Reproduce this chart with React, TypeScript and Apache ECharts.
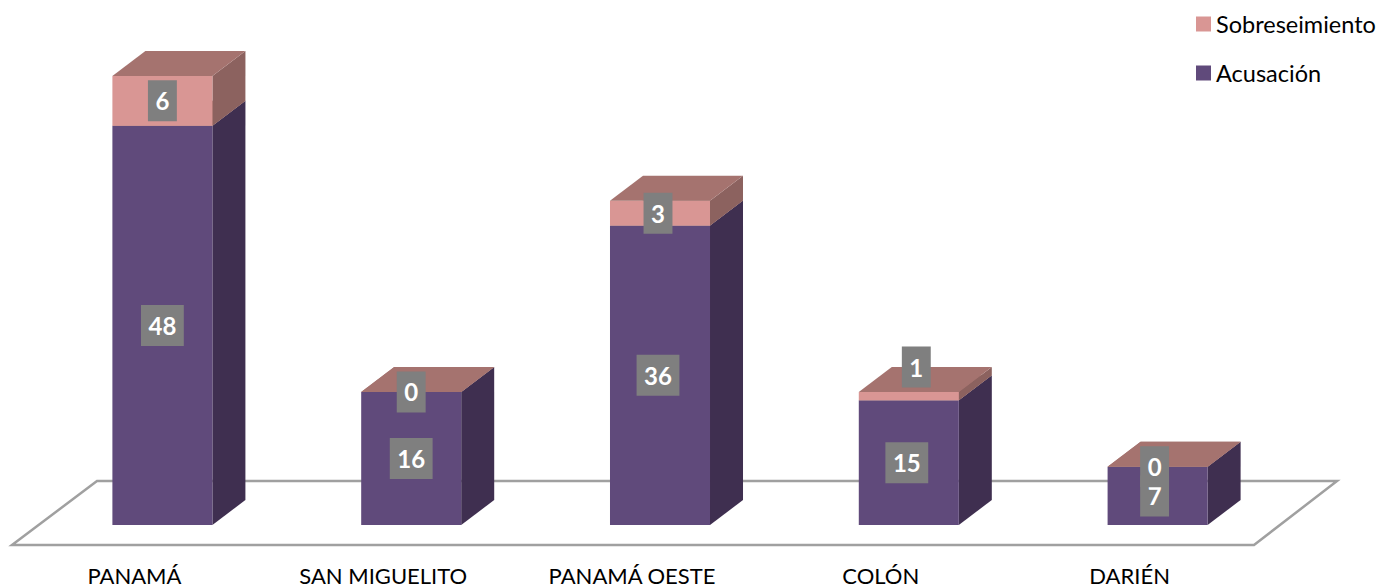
import React, { useEffect, useRef } from "react";
import * as echarts from "echarts";

const categories = ["PANAMÁ", "SAN MIGUELITO", "PANAMÁ OESTE", "COLÓN", "DARIÉN"];
const acusacion = [48, 16, 36, 15, 7];
const sobreseimiento = [6, 0, 3, 1, 0];

const FONT = "Lato, 'Open Sans', sans-serif";
const DEPTH_X = 33;
const DEPTH_Y = 25;
const TOP_FACE = "#a5736f";
const PURPLE = { front: "#604a7b", side: "#3f2f50" };
const PINK = { front: "#d99694", side: "#8c625f" };

// The reference's labels sit slightly off-centre; the "1" of COLÓN is moved above its thin segment.
function labelShift(seriesName: string, idx: number): [number, number] {
  const name = categories[idx];
  if (seriesName === "Sobreseimiento" && name === "COLÓN") return [7.5, -29];
  if (name === "PANAMÁ OESTE" || name === "COLÓN") return [-2, 0];
  if (name === "DARIÉN") return [-3, 0];
  return [0, 0];
}

function box(seriesName: string, colors: { front: string; side: string }) {
  return (params: any, api: any) => {
    const idx = api.value(0);
    const base = api.value(1);
    const top = api.value(2);
    const w = api.size([1, 0])[0] * 0.402;
    const [cx, y0] = api.coord([idx, base]);
    const [, y1] = api.coord([idx, top]);
    const l = cx - w / 2;
    const r = cx + w / 2;
    const [sx, sy] = labelShift(seriesName, idx);
    const children: any[] = [
      {
        type: "polygon",
        shape: { points: [[r, y0], [r + DEPTH_X, y0 - DEPTH_Y], [r + DEPTH_X, y1 - DEPTH_Y], [r, y1]] },
        style: { fill: colors.side },
        z2: 1,
      },
      {
        type: "rect",
        shape: { x: l, y: y1, width: w, height: y0 - y1 },
        style: { fill: colors.front },
        z2: 1,
      },
      {
        type: "polygon",
        shape: { points: [[l, y1], [l + DEPTH_X, y1 - DEPTH_Y], [r + DEPTH_X, y1 - DEPTH_Y], [r, y1]] },
        style: { fill: TOP_FACE },
        z2: 1,
      },
      {
        type: "text",
        style: {
          x: cx + sx,
          y: (y0 + y1) / 2 + sy,
          text: String(top - base),
          fill: "#ffffff",
          font: `bold 24px ${FONT}`,
          align: "center",
          verticalAlign: "middle",
          backgroundColor: "#7f7f7f",
          padding: [6, 7.5],
          lineHeight: 29,
        },
        z2: 5,
      },
    ];
    return { type: "group", children };
  };
}

const acusacionData = acusacion.map((v, i) => [i, 0, v]);
const sobreseimientoData = sobreseimiento.map((v, i) => [i, acusacion[i], acusacion[i] + v]);

export default function App() {
  const ref = useRef<HTMLDivElement>(null);
  useEffect(() => {
    const chart = echarts.init(ref.current!, undefined, { renderer: "svg" });
    chart.setOption({
      animation: false,
      backgroundColor: "#ffffff",
      grid: { left: 38, right: 103, top: 26, bottom: 62 },
      legend: {
        orient: "vertical",
        left: 1196,
        top: 12,
        padding: 0,
        itemWidth: 15,
        itemHeight: 15,
        itemGap: 25,
        icon: "rect",
        data: ["Sobreseimiento", "Acusación"],
        textStyle: { fontFamily: FONT, fontSize: 23.5, color: "#000000" },
      },
      graphic: [
        {
          type: "polygon",
          z: 0,
          shape: { points: [[97, 481], [1337, 481], [1254, 545], [12, 545]] },
          style: { fill: "#ffffff", stroke: "#a0a0a0", lineWidth: 2.5 },
        },
      ],
      xAxis: {
        type: "category",
        data: categories,
        axisLine: { show: false },
        axisTick: { show: false },
        axisLabel: {
          margin: 39,
          fontFamily: FONT,
          fontSize: 22,
          color: "#000000",
          interval: 0,
          padding: [0, 56, 0, 0],
        },
      },
      yAxis: { type: "value", min: 0, max: 60, show: false },
      series: [
        {
          name: "Acusación",
          type: "custom",
          data: acusacionData,
          encode: { x: 0, y: 2 },
          itemStyle: { color: PURPLE.front },
          clip: false,
          renderItem: box("Acusación", PURPLE),
        },
        {
          name: "Sobreseimiento",
          type: "custom",
          data: sobreseimientoData,
          encode: { x: 0, y: 2 },
          itemStyle: { color: PINK.front },
          clip: false,
          renderItem: box("Sobreseimiento", PINK),
        },
      ],
    });
    return () => chart.dispose();
  }, []);
  return <div ref={ref} style={{ position: "fixed", left: 0, top: 0, width: 1385, height: 587 }} />;
}
